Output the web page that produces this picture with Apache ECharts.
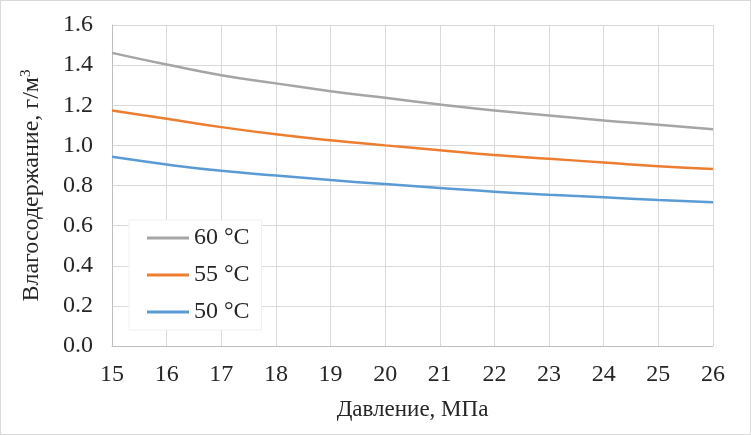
<!DOCTYPE html>
<html><head><meta charset="utf-8">
<script src="https://cdn.jsdelivr.net/npm/echarts@6/dist/echarts.min.js"></script>
<style>
html,body{margin:0;padding:0;background:#fff;}
#c{width:751px;height:435px;box-sizing:border-box;border:1px solid #d9d9d9;}
</style></head>
<body><div id="c"></div>
<script>
const pressure = [15,16,17,18,19,20,21,22,23,24,25,26];
const s60 = [1.461,1.403,1.350,1.309,1.270,1.237,1.204,1.174,1.149,1.124,1.103,1.080];
const s55 = [1.174,1.133,1.091,1.055,1.025,1.000,0.976,0.952,0.933,0.915,0.896,0.882];
const s50 = [0.943,0.905,0.873,0.850,0.827,0.807,0.788,0.769,0.754,0.741,0.728,0.717];
const names = ['60 °C','55 °C','50 °C'];
const colors = ['#A5A5A5','#ED7D31','#5B9BD5'];
const xName = 'Давление, МПа';
const yNameMain = 'Влагосодержание, г/м';
const yNameSup = '3';

const font = 'Liberation Serif';
const chart = echarts.init(document.getElementById('c'), null, {renderer:'canvas'});
const mk = (arr) => pressure.map((p,i)=>[p,arr[i]]);
const series = [s60,s55,s50].map((d,i)=>({
  name:names[i], type:'line', data:mk(d), smooth:true, showSymbol:false, symbol:'none',
  lineStyle:{color:colors[i], width:2.5}, itemStyle:{color:colors[i]}
}));
chart.setOption({
  animation:false,
  textStyle:{fontFamily:font},
  grid:{left:111, right:37, top:24, bottom:88, containLabel:false},
  xAxis:{type:'value', min:15, max:26, interval:1,
    name:xName, nameLocation:'middle', nameGap:52,
    nameTextStyle:{fontFamily:font, fontSize:23, color:'#262626'},
    axisLine:{show:true, lineStyle:{color:'#bfbfbf'}}, axisTick:{show:false},
    axisLabel:{fontFamily:font, fontSize:24, color:'#262626', margin:17},
    splitLine:{show:true, lineStyle:{color:'#d9d9d9'}}},
  yAxis:{type:'value', min:0, max:1.6, interval:0.2,
    name:'{m|'+yNameMain+'}{s|'+yNameSup+'}', nameLocation:'middle', nameGap:68, nameRotate:90,
    nameTextStyle:{fontFamily:font, fontSize:24, color:'#262626',
      rich:{m:{fontFamily:font, fontSize:24, color:'#262626'},
            s:{fontFamily:font, fontSize:15, color:'#262626', verticalAlign:'top', padding:[0,0,10,0]}}},
    axisLine:{show:true, lineStyle:{color:'#bfbfbf'}}, axisTick:{show:false},
    axisLabel:{fontFamily:font, fontSize:24, color:'#262626', margin:19, formatter:v=>v.toFixed(1)},
    splitLine:{show:true, lineStyle:{color:'#d9d9d9'}}},
  legend:{data:names, orient:'vertical', left:128, top:219,
    backgroundColor:'#fff', borderColor:'#f0f0f0', borderWidth:1,
    padding:[6,12,6,18], itemGap:13, itemWidth:42, itemHeight:3, icon:'rect',
    textStyle:{fontFamily:font, fontSize:24, color:'#262626'}},
  series:series
});
</script></body></html>
